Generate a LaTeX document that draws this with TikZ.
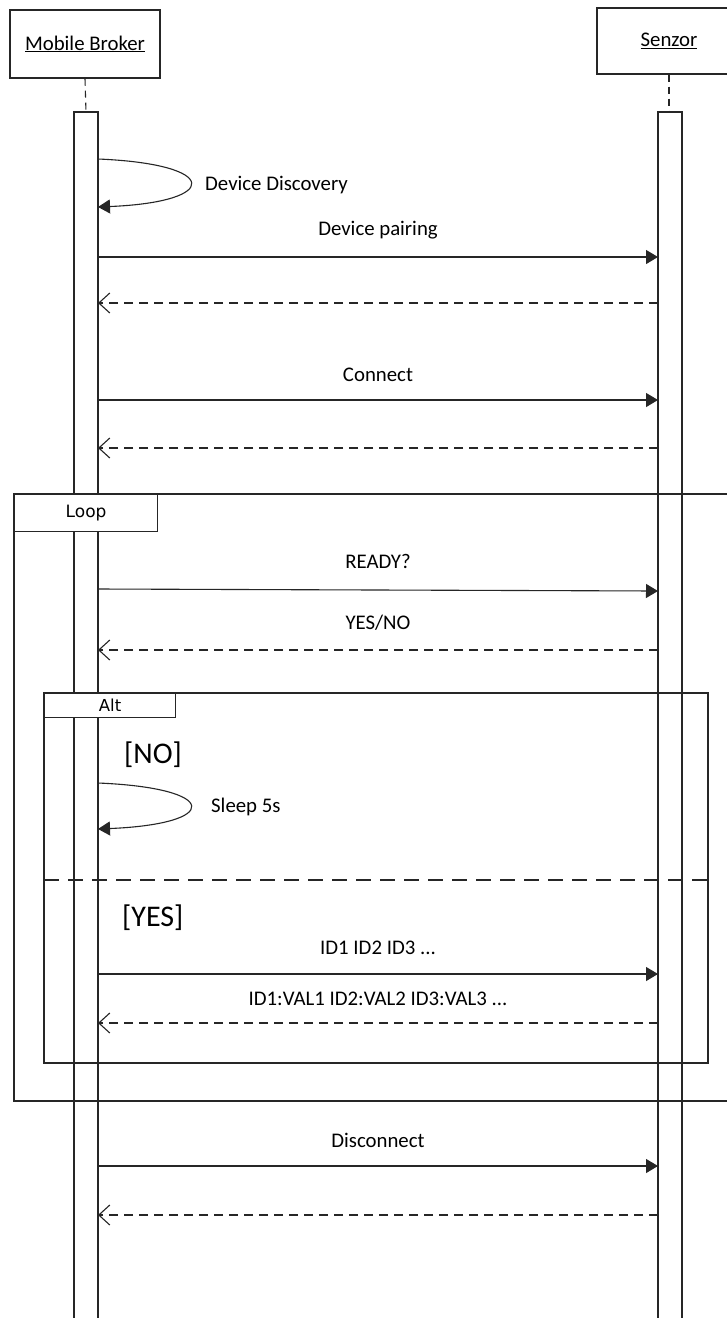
\documentclass[tikz,border=0pt]{standalone}
\usepackage{fontspec}
\setmainfont{Carlito}
\newfontfamily\framefont{DejaVu Sans}
\usetikzlibrary{arrows.meta}
\begin{document}
\begin{tikzpicture}[x=1pt,y=-1pt,
  ln/.style={line width=1.1pt,draw=black!85},
  msg/.style={ln,-{Triangle[length=12pt,width=14pt]}},
  ret/.style={ln,dash pattern=on 9pt off 6pt,-{Straight Barb[length=11pt,width=20pt,line width=1.1pt]}},
  lbl/.style={font=\fontsize{20.8}{24}\selectfont,inner sep=0pt},
  big/.style={font=\fontsize{30}{34}\selectfont,inner sep=0pt},
  head/.style={ln,draw,fill=white,rectangle,inner sep=0pt,font=\fontsize{20.8}{24}\selectfont},
  framelbl/.style={ln,draw,fill=white,rectangle,inner sep=0pt,font=\framefont\fontsize{17}{20}\selectfont},
  frame/.style={ln},
  lifedash/.style={ln,dash pattern=on 7pt off 5pt}]
\useasboundingbox (0,0) rectangle (727,1318);
\clip (0,0) rectangle (727,1318);
\fill[white] (0,0) rectangle (727,1318);

% headers
\node[head,minimum width=150pt,minimum height=68pt] (mb) at (85,44) {\underline{Mobile Broker}};
\node[head,minimum width=144pt,minimum height=66pt] (sz) at (669,41) {\raisebox{-2pt}{\underline{Senzor}}};
% lifeline stems
\coordinate (mbtop) at (86,112);
\coordinate (sztop) at (669,112);
\draw[lifedash] (mb.south) -- (mbtop);
\draw[lifedash] (sz.south) -- (sztop);
% activation bars
\draw[ln] (74,1330) -- (74,112) -- (98,112) -- (98,1330);
\draw[ln] (658,1330) -- (658,112) -- (682,112) -- (682,1330);

% Device Discovery self message
\coordinate (d1a) at (98,159);
\coordinate (d1b) at (98,207);
\draw[msg] (d1a) .. controls (221,164) and (221,202) .. (d1b);
\node[lbl,anchor=west] (ddl) at (205,185) {Device Discovery};

% Device pairing
\coordinate (m1) at (98,257); \coordinate (s1) at (658,257);
\draw[msg] (m1) -- node[lbl,above=17pt] {Device pairing} (s1);
\coordinate (m2) at (98,303); \coordinate (s2) at (658,303);
\draw[ret] (s2) -- (m2);

% Connect
\coordinate (m3) at (98,400); \coordinate (s3) at (658,400);
\draw[msg] (m3) -- node[lbl,above=18pt] {Connect} (s3);
\coordinate (m4) at (98,448); \coordinate (s4) at (658,448);
\draw[ret] (s4) -- (m4);

% Loop frame
\draw[frame] (740,494) -- (14,494) -- (14,1101) -- (740,1101);
\node[framelbl,minimum width=143pt,minimum height=37pt,anchor=north west] (loopl) at (14,494) {Loop};

% READY?
\coordinate (m5) at (98,589); \coordinate (s5) at (658,591);
\draw[msg] (m5) -- (s5);
\node[lbl] (rdy) at (378,561) {READY?};
\coordinate (m6) at (98,650); \coordinate (s6) at (658,650);
\draw[ret] (s6) -- node[lbl,above=19pt] {YES/NO} (m6);

% Alt frame
\draw[frame] (44,693) rectangle (708,1063);
\node[framelbl,minimum width=131pt,minimum height=24pt,anchor=north west,font=\framefont\fontsize{16.5}{20}\selectfont] (altl) at (44,693) {Alt};
\node[big,anchor=west] (no) at (124,755) {[NO]};

% Sleep 5s
\coordinate (d2a) at (98,783);
\coordinate (d2b) at (98,829);
\draw[msg] (d2a) .. controls (221,788) and (221,824) .. (d2b);
\node[lbl,anchor=west] (slp) at (211,807) {Sleep 5s};

% separator
\coordinate (sepa) at (44,880); \coordinate (sepb) at (708,880);
\draw[line width=1.6pt,draw=black!85,dash pattern=on 15pt off 9pt] (sepa) -- (sepb);
\node[big,anchor=west] (yes) at (122,918) {[YES]};

% IDs
\coordinate (m7) at (98,974); \coordinate (s7) at (658,974);
\draw[msg] (m7) -- node[lbl,above=19pt] {ID1 ID2 ID3 ...} (s7);
\coordinate (m8) at (98,1023); \coordinate (s8) at (658,1023);
\draw[ret] (s8) -- node[lbl,above=17pt] {ID1:VAL1 ID2:VAL2 ID3:VAL3 ...} (m8);

% Disconnect
\coordinate (m9) at (98,1166); \coordinate (s9) at (658,1166);
\draw[msg] (m9) -- node[lbl,above=18pt] {Disconnect} (s9);
\coordinate (m10) at (98,1215); \coordinate (s10) at (658,1215);
\draw[ret] (s10) -- (m10);
\end{tikzpicture}
\end{document}
